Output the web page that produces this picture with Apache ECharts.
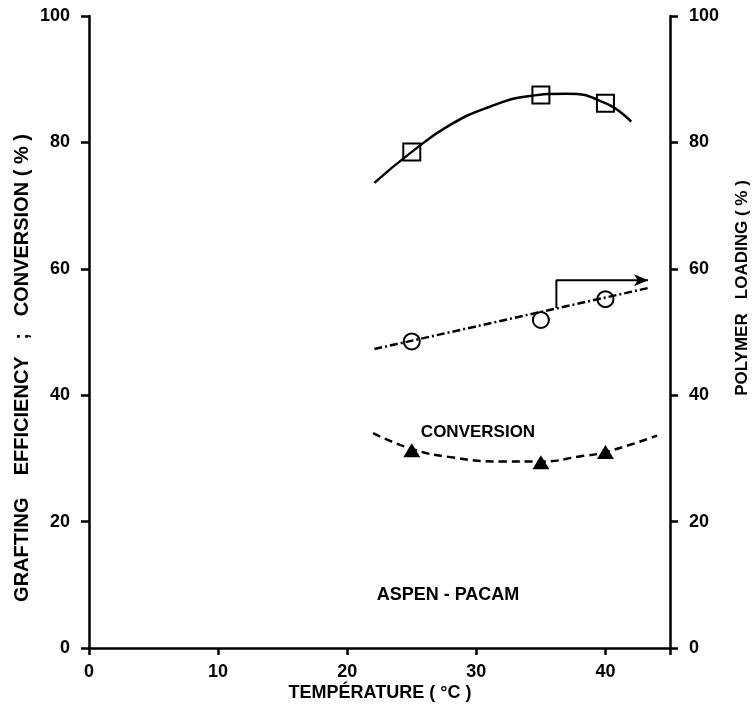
<!DOCTYPE html>
<html>
<head>
<meta charset="utf-8">
<title>Aspen - PACAM</title>
<script src="https://cdn.jsdelivr.net/npm/echarts@6/dist/echarts.min.js"></script>
<style>
  html, body { margin: 0; padding: 0; background: #fff; }
  #chart { width: 754px; height: 713px; }
</style>
</head>
<body>
<div id="chart"></div>
<script>
// measured points (temperature, °C)
const tempPoints = [25, 35, 40]
const graftingEff = [78.5, 87.5, 86.2]     // squares, left axis
const polymerLoading = [48.5, 51.9, 55.2]  // circles, right axis
const conversion = [31.3, 29.4, 31.0]      // triangles, left axis

// fitted curves
const graftCurveX = [22.1, 25, 28, 31, 34, 37, 40, 42]
const graftCurveY = [73.6, 78.5, 82.8, 85.6, 87.3, 87.7, 86.2, 83.3]
const loadLineX = [22.1, 43.4]
const loadLineY = [47.3, 57.0]
const convCurveX = [22, 25, 28, 32, 35, 38, 40, 44]
const convCurveY = [34.0, 31.5, 30.2, 29.5, 29.5, 30.3, 31.0, 33.6]

// arrow pointing the loading line to the right axis
const arrowX = [36.2, 36.2, 43.3]
const arrowY = [53.8, 58.2, 58.2]

const xTicks = [0, 10, 20, 30, 40]
const yTicks = [0, 20, 40, 60, 80, 100]

const FONT = '"Liberation Sans", Arial, sans-serif'
const zip = (xs, ys) => xs.map((x, i) => [x, ys[i]])

const chart = echarts.init(document.getElementById('chart'))

const yAxisBase = (pos) => ({
  type: 'value',
  position: pos,
  min: yTicks[0],
  max: yTicks[yTicks.length - 1],
  interval: 20,
  axisLine: { show: true, lineStyle: { color: '#000', width: 2.5 } },
  axisTick: { show: true, length: 8, lineStyle: { color: '#000', width: 2.5 } },
  axisLabel: { color: '#000', fontSize: 18, fontWeight: 'bold', fontFamily: FONT, margin: 19 },
  splitLine: { show: false }
})

const option = {
  backgroundColor: '#fff',
  animation: false,
  grid: { left: 89, right: 84, top: 16, bottom: 65 },
  xAxis: {
    type: 'value',
    min: 0,
    max: 45,
    interval: 10,
    axisLine: { lineStyle: { color: '#000', width: 2.5 } },
    axisTick: { length: 7, lineStyle: { color: '#000', width: 2.5 } },
    axisLabel: {
      color: '#000', fontSize: 18, fontWeight: 'bold', fontFamily: FONT, margin: 15,
      formatter: v => (xTicks.includes(v) ? String(v) : '')
    },
    splitLine: { show: false }
  },
  yAxis: [yAxisBase('left'), yAxisBase('right')],
  graphic: [
    {
      type: 'text', x: 380, y: 693, style: {
        text: 'TEMPÉRATURE ( °C )', font: `bold 18px ${FONT}`, fill: '#000', align: 'center', verticalAlign: 'middle'
      }
    },
    {
      type: 'text', x: 22, y: 368, rotation: Math.PI / 2, style: {
        text: 'GRAFTING    EFFICIENCY   ;   CONVERSION ( % )', font: `bold 20px ${FONT}`, fill: '#000', align: 'center', verticalAlign: 'middle'
      }
    },
    {
      type: 'text', x: 742, y: 288, rotation: Math.PI / 2, style: {
        text: 'POLYMER   LOADING ( % )', font: `bold 17px ${FONT}`, fill: '#000', align: 'center', verticalAlign: 'middle'
      }
    },
    {
      type: 'text', x: 478, y: 432, style: {
        text: 'CONVERSION', font: `bold 17px ${FONT}`, fill: '#000', align: 'center', verticalAlign: 'middle'
      }
    },
    {
      type: 'text', x: 448, y: 595, style: {
        text: 'ASPEN - PACAM', font: `bold 18px ${FONT}`, fill: '#000', align: 'center', verticalAlign: 'middle'
      }
    }
  ],
  series: [
    // curves first so markers sit on top
    {
      type: 'line', smooth: true, symbol: 'none', data: zip(graftCurveX, graftCurveY),
      lineStyle: { color: '#000', width: 2.5 }
    },
    {
      type: 'line', yAxisIndex: 1, symbol: 'none', data: zip(loadLineX, loadLineY),
      lineStyle: { color: '#000', width: 2.5, type: [8, 3, 2, 3] }
    },
    {
      type: 'line', smooth: true, symbol: 'none', data: zip(convCurveX, convCurveY),
      lineStyle: { color: '#000', width: 2.5, type: [8, 5] }
    },
    {
      type: 'line', yAxisIndex: 1, symbol: 'none',
      data: zip(arrowX, arrowY).map((p, i, a) => i === a.length - 1
        ? { value: p, symbol: 'arrow', symbolSize: [9, 14], symbolRotate: -90, itemStyle: { color: '#000' } }
        : p),
      showSymbol: true,
      lineStyle: { color: '#000', width: 2 }
    },
    {
      type: 'scatter', data: zip(tempPoints, graftingEff), symbol: 'rect', symbolSize: 17,
      itemStyle: { color: '#fff', borderColor: '#000', borderWidth: 2, opacity: 1 }
    },
    {
      type: 'scatter', yAxisIndex: 1, data: zip(tempPoints, polymerLoading), symbol: 'circle', symbolSize: 16,
      itemStyle: { color: '#fff', borderColor: '#000', borderWidth: 2, opacity: 1 }
    },
    {
      type: 'scatter', data: zip(tempPoints, conversion), symbol: 'triangle', symbolSize: [17, 14],
      itemStyle: { color: '#000', opacity: 1 }
    }
  ]
}

chart.setOption(option)
</script>
</body>
</html>
